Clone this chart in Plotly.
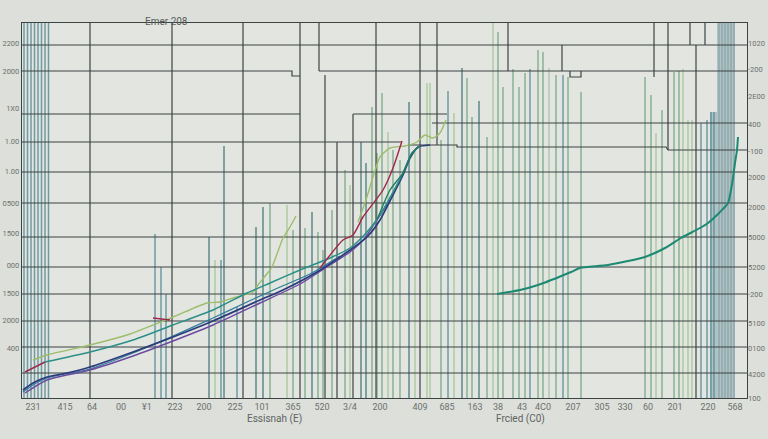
import plotly.graph_objects as go

# ---------------- data ----------------
x_ticks = [33, 65, 92, 121, 147, 175, 204, 235, 262, 293, 322, 350, 380,
           420, 447, 475, 498, 522, 543, 573, 602, 625, 648, 675, 708, 735]
x_labels = ["231", "415", "64", "00", "¥1", "223", "200", "225", "101", "365", "520", "3/4", "200",
            "409", "685", "163", "38", "43", "4C0", "207", "305", "330", "60", "201", "220", "568"]

y_left_vals = [357, 329, 292, 259, 229, 197, 167, 135, 107, 80, 52]
y_left_labels = ["2200", "2000", "1X0", "1.00", "1.00", "0500", "1500", "000", "1500", "2000", "400"]
y_right_vals = [357, 331, 304, 276, 249, 223, 193, 163, 133, 106, 77, 52, 26, 2]
y_right_labels = ["1020", "-200", "2E00", "400", "-100", "2000", "2000", "5000",
                  "5200", "-200", "5100", "0100", "4200", "100"]

# thin vertical bars: position, top value, colour class
bar_x = [24, 27.5, 31, 34.5, 38, 41.5, 45, 48.5,
         155, 161, 166, 209, 215, 221, 224, 237, 256, 263, 270, 287, 293, 305, 312, 318, 323, 332,
         345, 350, 361, 366, 372, 377, 382, 388, 393, 400, 409, 415, 427, 430, 441, 448, 454, 462,
         467, 472, 479, 487, 493, 498, 503, 513, 519, 525, 530, 538, 543, 549, 556, 563, 568, 581,
         645, 651, 656, 662, 674, 679, 683, 688, 692, 701, 707, 711, 714]
bar_top = [377, 377, 377, 377, 377, 377, 377, 377,
           166, 133, 106, 163, 140, 140, 254, 93, 173, 193, 197, 195, 170, 172, 188, 168, 150, 190,
           230, 215, 258, 237, 293, 247, 307, 268, 250, 240, 298, 250, 317, 317, 260, 309, 287, 332,
           322, 283, 299, 263, 377, 368, 313, 331, 313, 327, 331, 350, 348, 332, 325, 325, 323, 308,
           323, 305, 267, 290, 328, 329, 331, 280, 280, 277, 280, 288, 288]
bar_kind = ["T"] * 8 + [
    "T", "T", "T", "D", "L", "T", "D", "T", "D", "D", "G", "L", "G", "G", "D", "G", "G", "G",
    "G", "L", "D", "D", "G", "G", "G", "L", "G", "G", "D", "L", "L", "L", "G", "T", "L", "D",
    "G", "G", "D", "G", "L", "G", "G", "G", "G", "G", "T", "G", "G", "L", "G", "T", "G", "G",
    "G", "G", "L", "G", "G", "G", "L", "L", "L", "T", "T", "T", "T"]

band_x = [713.5, 726]
band_width = [7, 18]
band_top = [288, 377]
band_lines_x = [719, 722, 725, 728, 731, 734]
band_lines_top = [377, 377, 377, 377, 377, 377]

# dark grid / step lines, one list of x and y per segment
grid_segments_x = [
    [22, 747], [22, 292, 292, 300], [319, 747],
    [22, 300], [353, 447], [432, 747],
    [22, 402], [408, 457, 457, 666, 668, 747],
    [22, 747], [22, 747], [22, 747], [22, 747], [22, 747], [22, 747], [22, 747], [22, 747],
    [90, 90], [172, 172], [243, 243], [300, 300], [319, 319], [325, 325], [337, 337],
    [353, 353], [376, 376], [420, 420], [437, 437], [508, 508], [562, 562],
    [570, 570, 581, 581], [654, 654], [668, 668], [690, 690], [705, 705], [696, 696]]
grid_segments_y = [
    [355, 355], [329, 329, 324, 324], [329, 329],
    [286, 286], [286, 286], [277, 277],
    [258, 258], [255, 255, 253, 253, 250, 250],
    [228, 228], [197, 197], [163, 163], [133, 133], [106, 106], [79, 79], [53, 53], [27, 27],
    [2, 377], [2, 377], [2, 377], [2, 377], [377, 329], [325, 2], [258, 2],
    [286, 2], [2, 377], [2, 377], [377, 255], [377, 329], [355, 329],
    [329, 323, 323, 329], [377, 323], [377, 250], [377, 355], [377, 355], [355, 2]]

# curves
lime_x = [33, 47, 90, 127, 173, 207, 220, 233, 253, 258, 266, 272, 283, 290, 296, None,
          358, 366, 373, 380, 390, 405, 417, 425, 433, 440, 446]
lime_y = [40, 45, 55, 65, 83, 97, 98, 102, 108, 115, 125, 133, 162, 173, 184, None,
          178, 200, 223, 243, 252, 254, 258, 265, 262, 267, 280]
teal_x = [45, 90, 133, 173, 213, 247, 270, 300, 330, 350, 367, 380, 393, 403, 412, 420]
teal_y = [38, 48, 60, 75, 90, 107, 117, 130, 142, 152, 168, 185, 208, 227, 247, 254]
navy_x = [23, 33, 47, 67, 90, 133, 173, 213, 260, 283, 317, 350, 367, 380, 393, 403, 410, 418, 430]
navy_y = [10, 17, 23, 27, 33, 48, 63, 79, 100, 110, 128, 150, 163, 180, 205, 225, 242, 253, 255]
purple_x = [25, 47, 90, 133, 173, 213, 260, 300, 330, 350, 365, 378, 390]
purple_y = [7, 20, 30, 44, 59, 75, 97, 116, 135, 148, 162, 182, 200]
cyan_x = [23, 33, 47, 90, 133, 173, 213, 247, 280, 310, 340]
cyan_y = [8, 15, 22, 31, 47, 64, 82, 98, 113, 126, 144]
red_x = [25, 45, None, 153, 170, None, 320, 343, 353, 363, 383, 393, 402]
red_y = [28, 38, None, 82, 80, None, 132, 160, 165, 183, 210, 232, 259]
green_x = [377, 390, 403, 412, 420]
green_y = [180, 210, 227, 247, 254]
right_x = [497, 520, 538, 571, 580, 608, 645, 665, 681, 700, 708, 720, 728, 731, 733, 735, 737, 738]
right_y = [106, 110, 115, 128, 132, 135, 143, 152, 162, 172, 177, 188, 197, 210, 222, 237, 250, 263]

# ---------------- figure ----------------
kind_color = {"T": "#5c8e99", "D": "#4a7a7b", "G": "#78a885", "L": "#a4c79b"}
GRID = "#3d4342"
TXT = "#6d716f"

fig = go.Figure()

fig.add_trace(go.Bar(x=band_x, y=band_top, width=band_width, marker_color="#a9bcc0",
                     marker_line_width=0, opacity=0.85, showlegend=False, hoverinfo="skip"))
fig.add_trace(go.Bar(x=band_lines_x, y=band_lines_top, width=[1.2] * len(band_lines_x),
                     marker_color="#86a1a7", marker_line_width=0, showlegend=False, hoverinfo="skip"))
fig.add_trace(go.Bar(x=bar_x, y=bar_top, width=[1.5] * len(bar_x),
                     marker_color=[kind_color[k] for k in bar_kind], marker_line_width=0,
                     opacity=0.85, showlegend=False, hoverinfo="skip"))

for sx, sy in zip(grid_segments_x, grid_segments_y):
    fig.add_trace(go.Scatter(x=sx, y=sy, mode="lines", line=dict(color=GRID, width=1.2),
                             cliponaxis=True, showlegend=False, hoverinfo="skip"))

for xs, ys, col, w in [
    (lime_x, lime_y, "#9dbd6a", 1.4),
    (cyan_x, cyan_y, "#2f7f9c", 1.3),
    (purple_x, purple_y, "#6b4aa0", 1.4),
    (navy_x, navy_y, "#2b3a7c", 1.7),
    (teal_x, teal_y, "#2a8f88", 1.5),
    (green_x, green_y, "#1f7a64", 1.4),
    (red_x, red_y, "#a0284a", 1.4),
    (right_x, right_y, "#1c8a72", 2.0),
]:
    fig.add_trace(go.Scatter(x=xs, y=ys, mode="lines", line=dict(color=col, width=w, shape="spline",
                             smoothing=0.6), connectgaps=False, showlegend=False, hoverinfo="skip"))

# invisible trace to activate the right axis
fig.add_trace(go.Scatter(x=[None], y=[None], yaxis="y2", showlegend=False, hoverinfo="skip"))

fig.update_layout(
    width=768, height=439,
    margin=dict(l=22, r=21, t=23, b=41),
    paper_bgcolor="#dcdfda",
    plot_bgcolor="#e2e5e0",
    barmode="overlay",
    hovermode=False,
    font=dict(family="Roboto, Liberation Sans, sans-serif", color=TXT, size=9),
    xaxis=dict(range=[22, 747], automargin=False, showgrid=False, zeroline=False, showline=True,
               mirror=True, linecolor=GRID, linewidth=1.2, tickmode="array", tickvals=x_ticks,
               ticktext=x_labels, ticks="", tickfont=dict(size=9, color=TXT)),
    yaxis=dict(range=[2, 377], automargin=False, showgrid=False, zeroline=False, showline=True,
               mirror=True, linecolor=GRID, linewidth=1.2, tickmode="array", tickvals=y_left_vals,
               ticktext=y_left_labels, ticks="", tickfont=dict(size=7.5, color=TXT)),
    yaxis2=dict(range=[2, 377], automargin=False, overlaying="y", side="right", showgrid=False,
                zeroline=False, showline=False, tickmode="array", tickvals=y_right_vals,
                ticktext=y_right_labels, ticks="", tickfont=dict(size=7.5, color=TXT)),
    annotations=[
        dict(text="Emer 208", x=166, y=1.025, xref="x", yref="paper", showarrow=False,
             font=dict(size=10, color="#5a5e5c")),
        dict(text="Essisnah (E)", x=274, y=-0.078, xref="x", yref="paper", showarrow=False,
             font=dict(size=10, color="#5f6361")),
        dict(text="Frcied (C0)", x=520, y=-0.078, xref="x", yref="paper", showarrow=False,
             font=dict(size=10, color="#5f6361")),
    ],
)

fig.write_html("out.html", config={"displayModeBar": False, "staticPlot": True},
               post_script="document.body.style.margin='0';")
